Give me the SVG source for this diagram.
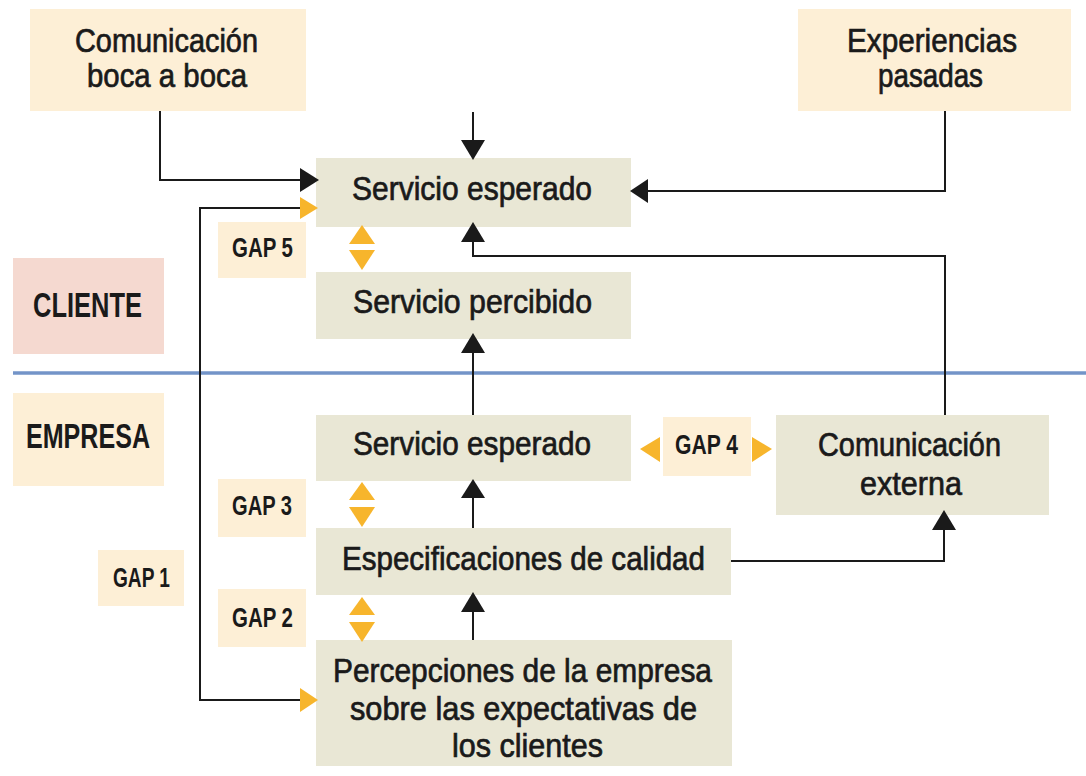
<svg xmlns="http://www.w3.org/2000/svg" width="1086" height="776" viewBox="0 0 1086 776">
<style>
.cream{fill:#fdefd6}
.beige{fill:#e9e7d5}
.pink{fill:#f5d9d0}
.t{font-family:"Liberation Sans",Arial,sans-serif;font-size:32.5px;fill:#1a1a1a;stroke:#1a1a1a;stroke-width:0.7}
.tb{font-family:"Liberation Sans",Arial,sans-serif;font-size:35px;font-weight:bold;fill:#1a1a1a}
.g{font-family:"Liberation Sans",Arial,sans-serif;font-size:27px;font-weight:bold;fill:#1a1a1a}
.ln{fill:none;stroke:#1a1a1a;stroke-width:2}
.ah{fill:#1a1a1a}
.ya{fill:#f7b52c}
</style>
<rect width="1086" height="776" fill="#ffffff"/>
<line x1="13" y1="373" x2="1086" y2="373" stroke="#7394c8" stroke-width="3.5"/>
<g id="comunicacion-boca">
<rect class="cream" x="30" y="9" width="276" height="102"/>
<text class="t" x="75" y="52" textLength="183" lengthAdjust="spacingAndGlyphs">Comunicación</text>
<text class="t" x="87" y="87" textLength="160" lengthAdjust="spacingAndGlyphs">boca a boca</text>
</g>
<g id="experiencias">
<rect class="cream" x="798" y="9" width="273" height="102"/>
<text class="t" x="847" y="52" textLength="170" lengthAdjust="spacingAndGlyphs">Experiencias</text>
<text class="t" x="878" y="87" textLength="105" lengthAdjust="spacingAndGlyphs">pasadas</text>
</g>
<g id="servicio-esperado-cliente">
<rect class="beige" x="316" y="158" width="315" height="69"/>
<text class="t" x="352" y="200" textLength="240" lengthAdjust="spacingAndGlyphs">Servicio esperado</text>
</g>
<g id="servicio-percibido">
<rect class="beige" x="316" y="272" width="315" height="67"/>
<text class="t" x="353" y="313" textLength="239" lengthAdjust="spacingAndGlyphs">Servicio percibido</text>
</g>
<g id="cliente">
<rect class="pink" x="13" y="258" width="151" height="96"/>
<text class="tb" x="33" y="317" textLength="109" lengthAdjust="spacingAndGlyphs">CLIENTE</text>
</g>
<g id="empresa">
<rect class="cream" x="13" y="393" width="151" height="93"/>
<text class="tb" x="26" y="448" textLength="124" lengthAdjust="spacingAndGlyphs">EMPRESA</text>
</g>
<g id="servicio-esperado-empresa">
<rect class="beige" x="316" y="415" width="315" height="66"/>
<text class="t" x="353" y="455" textLength="238" lengthAdjust="spacingAndGlyphs">Servicio esperado</text>
</g>
<g id="comunicacion-externa">
<rect class="beige" x="776" y="415" width="273" height="100"/>
<text class="t" x="818" y="456" textLength="183" lengthAdjust="spacingAndGlyphs">Comunicación</text>
<text class="t" x="860" y="495" textLength="102" lengthAdjust="spacingAndGlyphs">externa</text>
</g>
<g id="especificaciones">
<rect class="beige" x="316" y="528" width="415" height="67"/>
<text class="t" x="342" y="570" textLength="363" lengthAdjust="spacingAndGlyphs">Especificaciones de calidad</text>
</g>
<g id="percepciones">
<rect class="beige" x="316" y="640" width="416" height="126"/>
<text class="t" x="333" y="682" textLength="379" lengthAdjust="spacingAndGlyphs">Percepciones de la empresa</text>
<text class="t" x="350" y="720" textLength="347" lengthAdjust="spacingAndGlyphs">sobre las expectativas de</text>
<text class="t" x="452" y="757" textLength="151" lengthAdjust="spacingAndGlyphs">los clientes</text>
</g>
<g id="gap5">
<rect class="cream" x="218" y="222" width="88" height="56"/>
<text class="g" x="232" y="257" textLength="61" lengthAdjust="spacingAndGlyphs">GAP 5</text>
</g>
<g id="gap4">
<rect class="cream" x="663" y="417" width="88" height="59"/>
<text class="g" x="675" y="454" textLength="63" lengthAdjust="spacingAndGlyphs">GAP 4</text>
</g>
<g id="gap3">
<rect class="cream" x="218" y="479" width="88" height="58"/>
<text class="g" x="232" y="515" textLength="60" lengthAdjust="spacingAndGlyphs">GAP 3</text>
</g>
<g id="gap2">
<rect class="cream" x="218" y="589" width="88" height="58"/>
<text class="g" x="232" y="627" textLength="61" lengthAdjust="spacingAndGlyphs">GAP 2</text>
</g>
<g id="gap1">
<rect class="cream" x="98" y="550" width="86" height="56"/>
<text class="g" x="113" y="587" textLength="57" lengthAdjust="spacingAndGlyphs">GAP 1</text>
</g>
<g id="connectors">
<path class="ln" d="M160,111 V180 H302"/>
<polygon class="ah" points="319,180 300,168 300,192"/>
<path class="ln" d="M945,111 V191 H646"/>
<polygon class="ah" points="630,191 648,179 648,203"/>
<path class="ln" d="M473,112 V142"/>
<polygon class="ah" points="473,160 461,140 485,140"/>
<path class="ln" d="M945,415 V256 H473 V240"/>
<polygon class="ah" points="473,222 461,242 485,242"/>
<path class="ln" d="M473,415 V351"/>
<polygon class="ah" points="473,333 461,353 485,353"/>
<path class="ln" d="M473,528 V496"/>
<polygon class="ah" points="473,479 461,498 485,498"/>
<path class="ln" d="M473,640 V610"/>
<polygon class="ah" points="473,592 461,612 485,612"/>
<path class="ln" d="M731,561 H944 V528"/>
<polygon class="ah" points="944,510 932,530 956,530"/>
<path class="ln" d="M302,208 H200 V700 H302"/>
<polygon class="ya" points="318,208 300,197 300,219"/>
<polygon class="ya" points="318,700 300,688 300,712"/>
<polygon class="ya" points="362,225 349,244 375,244"/>
<polygon class="ya" points="349,250 375,250 362,270"/>
<polygon class="ya" points="362,482 349,500 375,500"/>
<polygon class="ya" points="349,507 375,507 362,527"/>
<polygon class="ya" points="362,597 349,615 375,615"/>
<polygon class="ya" points="349,622 375,622 362,642"/>
<polygon class="ya" points="640,449 660,437 660,462"/>
<polygon class="ya" points="772,449 752,437 752,462"/>
</g>
</svg>
